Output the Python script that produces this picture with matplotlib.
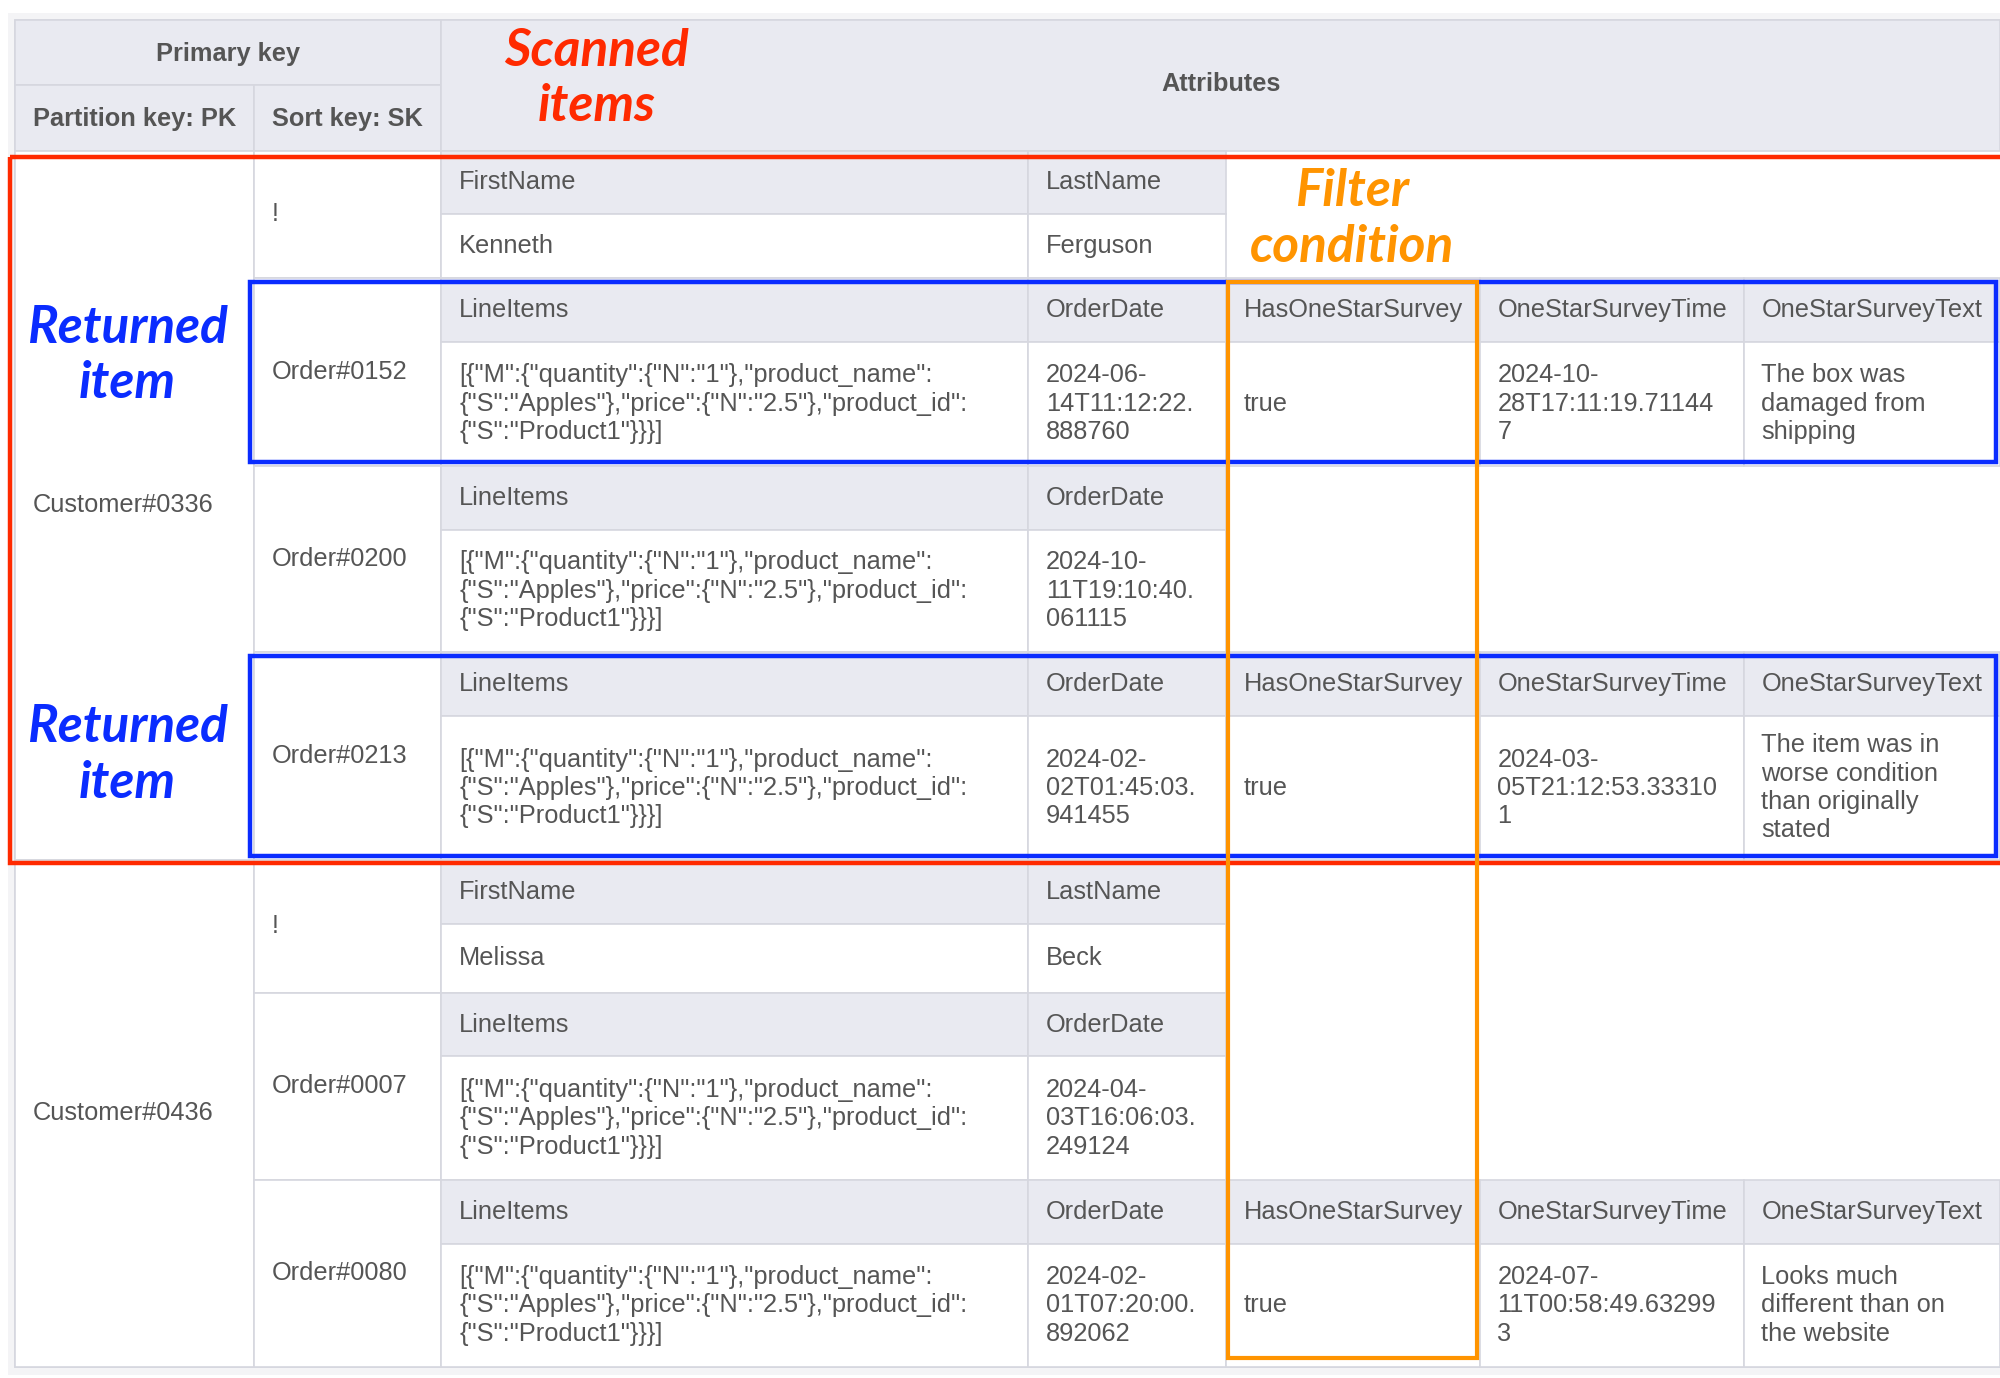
import matplotlib.pyplot as plt
from matplotlib.patches import Rectangle

# Table content
partition_keys = ["Customer#0336", "Customer#0436"]
sort_keys = ["!", "Order#0152", "Order#0200", "Order#0213", "!", "Order#0007", "Order#0080"]
item_partition = [0, 0, 0, 0, 1, 1, 1]

line_items = ('[{"M":{"quantity":{"N":"1"},"product_name":\n'
              '{"S":"Apples"},"price":{"N":"2.5"},"product_id":\n'
              '{"S":"Product1"}}}]')
survey_cols = ["HasOneStarSurvey", "OneStarSurveyTime", "OneStarSurveyText"]

attr_names = [
    ["FirstName", "LastName"],
    ["LineItems", "OrderDate"] + survey_cols,
    ["LineItems", "OrderDate"],
    ["LineItems", "OrderDate"] + survey_cols,
    ["FirstName", "LastName"],
    ["LineItems", "OrderDate"],
    ["LineItems", "OrderDate"] + survey_cols,
]
attr_values = [
    ["Kenneth", "Ferguson"],
    [line_items, "2024-06-\n14T11:12:22.\n888760", "true",
     "2024-10-\n28T17:11:19.71144\n7", "The box was\ndamaged from\nshipping"],
    [line_items, "2024-10-\n11T19:10:40.\n061115"],
    [line_items, "2024-02-\n02T01:45:03.\n941455", "true",
     "2024-03-\n05T21:12:53.33310\n1", "The item was in\nworse condition\nthan originally\nstated"],
    ["Melissa", "Beck"],
    [line_items, "2024-04-\n03T16:06:03.\n249124"],
    [line_items, "2024-02-\n01T07:20:00.\n892062", "true",
     "2024-07-\n11T00:58:49.63299\n3", "Looks much\ndifferent than on\nthe website"],
]
returned_items = [1, 3]
filter_col = 2  # HasOneStarSurvey

# Layout (in reference pixel units)
col_x = [12, 199, 346, 806, 961, 1160, 1367, 1568]
item_y = [118, 218, 365, 511, 674, 778, 925, 1071]
group_y = [118, 674, 1071]
sub_h = 50

HEAD = "#e9eaf1"
EDGE = "#d6d7df"
TXT = "#555555"
RED = "#ff2a00"
BLUE = "#0a2cff"
ORANGE = "#ff9400"
FONT = "Liberation Sans"
FS = 18.3

fig = plt.figure(figsize=(20, 13.78), dpi=100)
ax = fig.add_axes([0, 0, 1, 1])
ax.set_xlim(0, 1568)
ax.set_ylim(1080, 0)
ax.axis("off")

# light frame behind the table, table body itself white
ax.add_patch(Rectangle((6, 10), 1570, 1068, facecolor="#f4f4f6", edgecolor="none"))
ax.add_patch(Rectangle((12, 16), 1570, 1055, facecolor="white", edgecolor=EDGE, lw=1.2))


def cell(x0, x1, y0, y1, fill):
    ax.add_patch(Rectangle((x0, y0), x1 - x0, y1 - y0, facecolor=fill,
                           edgecolor=EDGE, lw=1.2, zorder=1))


def label(x, y, s, bold=False, ha="left"):
    ax.text(x, y, s, ha=ha, va="center", fontsize=FS, color=TXT, family=FONT,
            fontweight="bold" if bold else "normal", linespacing=1.23, zorder=3)


# header
cell(col_x[0], col_x[2], 16, 67, HEAD)
cell(col_x[0], col_x[1], 67, 118, HEAD)
cell(col_x[1], col_x[2], 67, 118, HEAD)
cell(col_x[2], col_x[-1], 16, 118, HEAD)
label((col_x[0] + col_x[2]) / 2, 42, "Primary key", bold=True, ha="center")
label((col_x[0] + col_x[1]) / 2, 93, "Partition key: PK", bold=True, ha="center")
label((col_x[1] + col_x[2]) / 2, 93, "Sort key: SK", bold=True, ha="center")
label((col_x[2] + col_x[-1]) / 2, 66, "Attributes", bold=True, ha="center")

# partition key cells
for g, pk in enumerate(partition_keys):
    cell(col_x[0], col_x[1], group_y[g], group_y[g + 1], "white")
    label(col_x[0] + 14, (group_y[g] + group_y[g + 1]) / 2, pk)

# items
for i, sk in enumerate(sort_keys):
    y0, y1 = item_y[i], item_y[i + 1]
    cell(col_x[1], col_x[2], y0, y1, "white")
    label(col_x[1] + 14, (y0 + y1) / 2, sk)
    for j, (name, val) in enumerate(zip(attr_names[i], attr_values[i])):
        x0, x1 = col_x[2 + j], col_x[3 + j]
        cell(x0, x1, y0, y0 + sub_h, HEAD)
        cell(x0, x1, y0 + sub_h, y1, "white")
        label(x0 + 14, y0 + sub_h / 2, name)
        label(x0 + 14, (y0 + sub_h + y1) / 2, val)

# highlight boxes
ax.add_patch(Rectangle((8, 123), 1570, 676 - 123, fill=False, edgecolor=RED,
                       lw=3.2, zorder=5))
for i in returned_items:
    ax.add_patch(Rectangle((196, item_y[i] + 3), 1565 - 196, item_y[i + 1] - item_y[i] - 6,
                           fill=False, edgecolor=BLUE, lw=3.2, zorder=6))
fx0, fx1 = col_x[2 + filter_col], col_x[3 + filter_col]
ax.add_patch(Rectangle((fx0 + 2, item_y[1] + 3), fx1 - fx0 - 4, 1064 - item_y[1] - 3,
                       fill=False, edgecolor=ORANGE, lw=3.0, zorder=7))

ann = dict(family="Lato", fontweight="bold", style="italic", fontsize=37,
           ha="center", va="center", linespacing=1.22, zorder=8)
ax.text(468, 62, "Scanned\nitems", color=RED, **ann)
ax.text(1060, 172, "Filter\ncondition", color=ORANGE, **ann)
ax.text(100, 279, "Returned\nitem", color=BLUE, **ann)
ax.text(100, 592, "Returned\nitem", color=BLUE, **ann)

fig.savefig("out.png", dpi=100, facecolor="white")
